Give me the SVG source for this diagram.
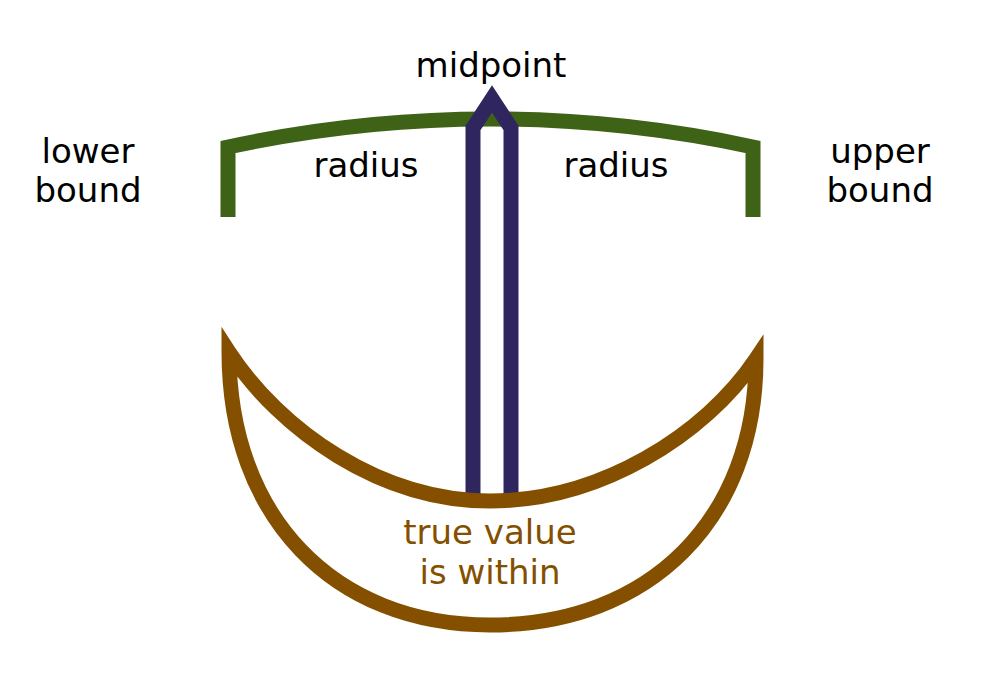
<svg xmlns="http://www.w3.org/2000/svg" width="985" height="681" viewBox="0 0 985 681">
<style>
.lbl{font-family:"DejaVu Sans","Liberation Sans",sans-serif;font-size:34px;fill:#000;text-anchor:middle}
.brn{fill:#845000}
.ln{fill:none;stroke-width:15;stroke-linejoin:miter;stroke-miterlimit:10}
</style>
<rect width="985" height="681" fill="#fff"/>
<g id="connectors">
<path id="bracket" class="ln" stroke="#3e6317" d="M228,217 V147 A1244 1244 0 0 1 753,147 V217"/>
<path id="midpoint-arrow" class="ln" stroke="#30265f" stroke-width="14" d="M473,497 V128 L492,99 L511,128 V497"/>
<path id="range" class="ln" stroke="#845000" d="M229,352 C280,430 380,501 490,501 C600,501 705,435 756,359 C756,519 650,625 490,625 C333,625 229,516 229,352 Z"/>
</g>
<g id="midpoint"><text class="lbl" x="491" y="77">midpoint</text></g>
<g id="radius-left"><text class="lbl" x="366" y="177">radius</text></g>
<g id="radius-right"><text class="lbl" x="616" y="177">radius</text></g>
<g id="lower-bound"><text class="lbl" x="88" y="163">lower</text><text class="lbl" x="88" y="202">bound</text></g>
<g id="upper-bound"><text class="lbl" x="880" y="163">upper</text><text class="lbl" x="880" y="202">bound</text></g>
<g id="true-value"><text class="lbl brn" x="490" y="544">true value</text><text class="lbl brn" x="490" y="584">is within</text></g>
</svg>
